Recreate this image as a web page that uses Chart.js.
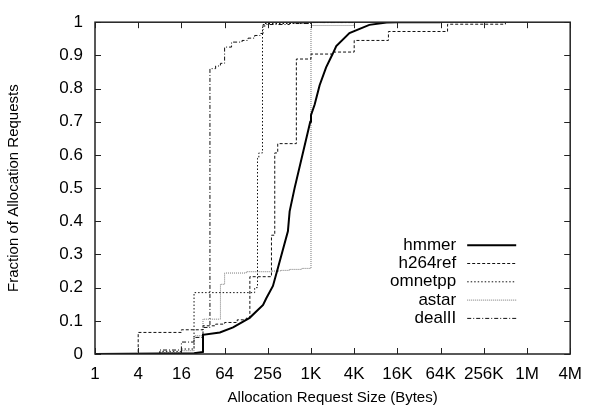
<!DOCTYPE html>
<html>
<head>
<meta charset="utf-8">
<script src="https://cdn.jsdelivr.net/npm/chart.js@4.4.1/dist/chart.umd.min.js"></script>
<style>
  html, body { margin: 0; padding: 0; background: #fff; }
  #wrap { width: 592px; height: 413px; }
</style>
</head>
<body>
<div id="wrap"><canvas id="sizeCdf" width="592" height="413"></canvas></div>
<script>
// axis ticks (x is request size in bytes, log scale)
const xTickValues = [1, 4, 16, 64, 256, 1024, 4096, 16384, 65536, 262144, 1048576, 4194304];
const xTickLabels = ['1', '4', '16', '64', '256', '1K', '4K', '16K', '64K', '256K', '1M', '4M'];
const yTickValues = [0, 0.1, 0.2, 0.3, 0.4, 0.5, 0.6, 0.7, 0.8, 0.9, 1];
const yTickLabels = ['0', '0.1', '0.2', '0.3', '0.4', '0.5', '0.6', '0.7', '0.8', '0.9', '1'];

// hmmer - smooth curve
const hmmerSize = [1, 24, 32, 32, 55, 84, 143, 220, 244, 302, 355, 488, 516, 605, 1000, 1024, 1152, 1351, 1663, 2048, 2304, 3516, 6654, 11585, 16384, 65536];
const hmmerFrac = [0, 0.002, 0.006, 0.058, 0.065, 0.08, 0.109, 0.148, 0.168, 0.205, 0.26, 0.37, 0.43, 0.5, 0.70, 0.72, 0.752, 0.81, 0.864, 0.904, 0.928, 0.967, 0.992, 0.999, 1, 1];

// the others are step functions: value reached at each size
const h264Size = [1, 4, 16, 32, 48, 64, 96, 128, 144, 288, 320, 352, 640, 1024, 2048, 4096, 12288, 81920, 524288];
const h264Frac = [0, 0.065, 0.073, 0.085, 0.09, 0.095, 0.103, 0.108, 0.233, 0.358, 0.606, 0.634, 0.889, 0.904, 0.91, 0.945, 0.972, 0.994, 1];

const omnetSize = [1, 8, 16, 24, 168, 184, 192, 216, 232, 1024, 4096];
const omnetFrac = [0, 0.008, 0.015, 0.185, 0.2, 0.59, 0.606, 0.985, 0.996, 0.999, 1];

const astarSize = [1, 8, 16, 24, 32, 56, 64, 128, 288, 384, 512, 768, 1024, 4096];
const astarFrac = [0, 0.004, 0.01, 0.055, 0.105, 0.21, 0.244, 0.248, 0.25, 0.252, 0.255, 0.258, 0.99, 1];

const dealSize = [1, 8, 16, 24, 32, 40, 48, 56, 64, 80, 112, 136, 168, 200, 220, 512, 1024, 4096];
const dealFrac = [0, 0.012, 0.036, 0.05, 0.08, 0.86, 0.868, 0.876, 0.925, 0.94, 0.945, 0.952, 0.96, 0.966, 0.993, 0.996, 0.999, 1];

const FONT = '"Liberation Sans", Arial, sans-serif';

function pts(sizes, fracs) {
  return sizes.map((s, i) => ({ x: s, y: fracs[i] }));
}

// gnuplot-like frame with inward ticks on all four sides
const frameTicks = {
  id: 'frameTicks',
  afterDatasetsDraw(chart) {
    const { ctx, chartArea: a, scales: { x, y } } = chart;
    ctx.save();
    ctx.strokeStyle = '#222';
    ctx.lineWidth = 1;
    ctx.beginPath();
    x.ticks.forEach(t => {
      const px = Math.round(x.getPixelForValue(t.value)) + 0.5;
      ctx.moveTo(px, a.bottom); ctx.lineTo(px, a.bottom - 6);
      ctx.moveTo(px, a.top); ctx.lineTo(px, a.top + 6);
    });
    y.ticks.forEach(t => {
      const py = Math.round(y.getPixelForValue(t.value)) + 0.5;
      ctx.moveTo(a.left, py); ctx.lineTo(a.left + 6, py);
      ctx.moveTo(a.right, py); ctx.lineTo(a.right - 6, py);
    });
    ctx.stroke();
    ctx.lineWidth = 1.5;
    ctx.strokeRect(a.left, a.top, a.right - a.left, a.bottom - a.top);
    ctx.restore();
  }
};

// legend inside the plot: label, then the sample line to its right
const legendInside = {
  id: 'legendInside',
  afterDraw(chart) {
    const { ctx, chartArea: a } = chart;
    ctx.save();
    ctx.font = '17px ' + FONT;
    ctx.textAlign = 'right';
    ctx.textBaseline = 'middle';
    chart.data.datasets.forEach((ds, i) => {
      const ly = a.top + 223 + i * 18.3;
      ctx.fillStyle = '#000';
      ctx.fillText(ds.label, a.right - 114, ly);
      ctx.strokeStyle = ds.borderColor;
      ctx.lineWidth = ds.borderWidth;
      ctx.setLineDash(ds.borderDash || []);
      ctx.beginPath();
      ctx.moveTo(a.right - 103, ly);
      ctx.lineTo(a.right - 54, ly);
      ctx.stroke();
    });
    ctx.restore();
  }
};

new Chart(document.getElementById('sizeCdf'), {
  type: 'line',
  data: {
    datasets: [
      { label: 'hmmer', data: pts(hmmerSize, hmmerFrac), borderColor: '#000', borderWidth: 2, tension: 0 },
      { label: 'h264ref', data: pts(h264Size, h264Frac), borderColor: '#111', borderWidth: 1, borderDash: [3, 2], stepped: true },
      { label: 'omnetpp', data: pts(omnetSize, omnetFrac), borderColor: '#111', borderWidth: 1, borderDash: [1.5, 2], stepped: true },
      { label: 'astar', data: pts(astarSize, astarFrac), borderColor: '#777', borderWidth: 1, borderDash: [1, 1], stepped: true },
      { label: 'dealII', data: pts(dealSize, dealFrac), borderColor: '#111', borderWidth: 1, borderDash: [4, 2, 1, 2], stepped: true }
    ]
  },
  options: {
    responsive: false,
    animation: false,
    devicePixelRatio: 1,
    layout: { padding: { top: 12, right: 21, left: 0, bottom: 0 } },
    elements: { point: { radius: 0 } },
    plugins: { legend: { display: false }, tooltip: { enabled: false } },
    scales: {
      x: {
        type: 'logarithmic',
        min: 1,
        max: 4194304,
        afterBuildTicks: s => { s.ticks = xTickValues.map(v => ({ value: v })); },
        afterFit: s => { s.height = 59; },
        grid: { display: false, drawTicks: false },
        border: { display: false },
        ticks: {
          autoSkip: false,
          maxRotation: 0,
          padding: 10,
          color: '#000',
          font: { family: FONT, size: 17 },
          callback: (v, i) => xTickLabels[i]
        },
        title: {
          display: true,
          text: 'Allocation Request Size (Bytes)',
          color: '#000',
          font: { family: FONT, size: 15 },
          padding: { top: 0, bottom: 6 }
        }
      },
      y: {
        type: 'linear',
        min: 0,
        max: 1,
        afterBuildTicks: s => { s.ticks = yTickValues.map(v => ({ value: v })); },
        afterFit: s => { s.width = 95; },
        grid: { display: false, drawTicks: false },
        border: { display: false },
        ticks: {
          padding: 12,
          color: '#000',
          font: { family: FONT, size: 17 },
          callback: (v, i) => yTickLabels[i]
        },
        title: {
          display: true,
          text: 'Fraction of Allocation Requests',
          color: '#000',
          font: { family: FONT, size: 15 },
          padding: { top: 5, bottom: 0 }
        }
      }
    }
  },
  plugins: [frameTicks, legendInside]
});
</script>
</body>
</html>
